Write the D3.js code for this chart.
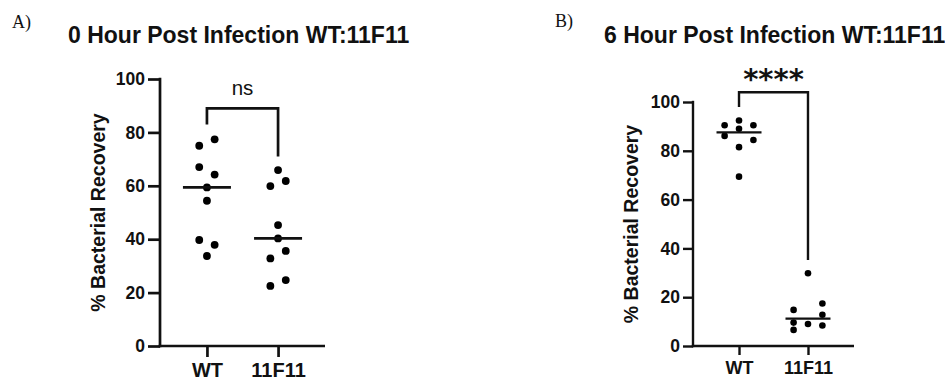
<!DOCTYPE html>
<html>
<head>
<meta charset="utf-8">
<script src="https://cdn.jsdelivr.net/npm/d3@7"></script>
<style>
  html, body { margin: 0; padding: 0; background: #fff; }
  svg { display: block; }
</style>
</head>
<body>
<svg id="chart" width="945" height="383"></svg>
<script>
// ---- data ----
const panelLabels = ["A)", "B)"];
const titles = ["0 Hour Post Infection WT:11F11", "6 Hour Post Infection WT:11F11"];
const categories = ["WT", "11F11"];
const yTicks = [0, 20, 40, 60, 80, 100];
const yTitle = "% Bacterial Recovery";
const significance = ["ns", "****"];

// 0 hour values (% recovery)
const wt0h    = [77.4, 75.0, 67.0, 64.2, 59.4, 54.4, 39.7, 37.9, 33.7];
const f11_0h  = [65.9, 61.8, 59.9, 45.3, 40.3, 35.6, 32.8, 24.7, 22.5];
// 6 hour values (% recovery)
const wt6h    = [92.4, 90.5, 90.5, 89.0, 86.1, 84.4, 81.5, 69.4];
const f11_6h  = [29.8, 17.4, 14.8, 12.8, 9.6, 9.0, 8.4, 6.6];

// scatter column (lane) index of each point: -1 left, 0 centre, 1 right
const wt0hLane   = [1, -1, -1, 1, 0, 0, -1, 1, 0];
const f11_0hLane = [0, 1, -1, 0, 0, 1, -1, 1, -1];
const wt6hLane   = [0, -1, 1, 0, -1, 1, 0, 0];
const f11_6hLane = [0, 1, -1, 1, -1, 0, 1, -1];

// ---- layout ----
const panels = [
  {
    label: panelLabels[0], labelX: 12, labelY: 28,
    title: titles[0], titleX: 68, titleY: 43,
    series: [wt0h, f11_0h], lanes: [wt0hLane, f11_0hLane],
    x0: 160, x1: 325, pad: 0.66, yTop: 79, yBot: 346,
    laneW: 7.7, r: 3.9, medW: 24, sw: 2.7,
    tickFont: 17.5, catFont: 20, tickLen: 12,
    yTitleX: 105,
    sig: significance[0], sigBold: false,
    bracket: { top: 89, left: 83, right: 71 }, sigY: 95, sigFont: 20.5
  },
  {
    label: panelLabels[1], labelX: 555, labelY: 27,
    title: titles[1], titleX: 604, titleY: 43,
    series: [wt6h, f11_6h], lanes: [wt6hLane, f11_6hLane],
    x0: 693, x1: 854, pad: 0.667, yTop: 102, yBot: 346,
    laneW: 14.4, r: 3.3, medW: 22.5, sw: 2.4,
    tickFont: 17.5, catFont: 18, tickLen: 10,
    yTitleX: 638,
    sig: significance[1], sigBold: true,
    bracket: { top: 104, left: 98, right: 35.2 }, sigY: 89, sigFont: 29
  }
];

const svg = d3.select("#chart");
const FONT = "'Liberation Sans', Arial, Helvetica, sans-serif";
const INK = "#111";

panels.forEach(p => {
  const g = svg.append("g");
  const x = d3.scalePoint().domain(categories).range([p.x0, p.x1]).padding(p.pad);
  const y = d3.scaleLinear().domain([0, 100]).range([p.yBot, p.yTop]);

  // panel label
  g.append("text").attr("x", p.labelX).attr("y", p.labelY)
    .attr("font-family", "'Liberation Serif', 'Times New Roman', serif")
    .attr("font-size", 18).attr("fill", INK).text(p.label);

  // title
  g.append("text").attr("x", p.titleX).attr("y", p.titleY)
    .attr("font-family", FONT).attr("font-weight", "bold")
    .attr("font-size", 23).attr("fill", INK).text(p.title);

  // y axis
  const yAxis = d3.axisLeft(y).tickValues(yTicks).tickSize(p.tickLen).tickPadding(3).tickSizeOuter(0);
  const ya = g.append("g").attr("transform", `translate(${p.x0},0)`).call(yAxis);
  ya.select(".domain").attr("stroke", INK).attr("stroke-width", p.sw)
    .attr("d", `M0,${p.yBot + p.sw / 2}V${p.yTop - p.sw / 2}`);
  ya.selectAll(".tick line").attr("stroke", INK).attr("stroke-width", p.sw);
  ya.selectAll(".tick text").attr("font-family", FONT).attr("font-weight", "bold")
    .attr("font-size", p.tickFont).attr("fill", INK);

  // x axis
  const xAxis = d3.axisBottom(x).tickSize(p.tickLen - 1).tickPadding(6).tickSizeOuter(0);
  const xa = g.append("g").attr("transform", `translate(0,${p.yBot})`).call(xAxis);
  xa.select(".domain").attr("stroke", INK).attr("stroke-width", p.sw)
    .attr("d", `M${p.x0 - p.sw / 2},0H${p.x1}`);
  xa.selectAll(".tick line").attr("stroke", INK).attr("stroke-width", p.sw);
  xa.selectAll(".tick text").attr("font-family", FONT).attr("font-weight", "bold")
    .attr("font-size", p.catFont).attr("fill", INK);

  // y title
  g.append("text")
    .attr("transform", `translate(${p.yTitleX},${(p.yTop + p.yBot) / 2}) rotate(-90)`)
    .attr("text-anchor", "middle")
    .attr("font-family", FONT).attr("font-weight", "bold")
    .attr("font-size", 19.5).attr("fill", INK).text(yTitle);

  // points and medians
  p.series.forEach((vals, si) => {
    const cx = x(categories[si]);
    const lanes = p.lanes[si];
    g.append("g").selectAll("circle").data(vals).join("circle")
      .attr("cx", (d, i) => cx + lanes[i] * p.laneW)
      .attr("cy", d => y(d))
      .attr("r", p.r).attr("fill", "#000");
    const med = d3.median(vals);
    g.append("line")
      .attr("x1", cx - p.medW).attr("x2", cx + p.medW)
      .attr("y1", y(med)).attr("y2", y(med))
      .attr("stroke", INK).attr("stroke-width", p.sw);
  });

  // significance bracket
  const xl = x(categories[0]), xr = x(categories[1]);
  const b = p.bracket;
  g.append("path")
    .attr("d", `M${xl},${y(b.left)}V${y(b.top)}H${xr}V${y(b.right)}`)
    .attr("fill", "none").attr("stroke", INK).attr("stroke-width", p.sw);
  g.append("text")
    .attr("x", (xl + xr) / 2).attr("y", p.sigY)
    .attr("text-anchor", "middle")
    .attr("font-family", p.sigBold ? "'DejaVu Sans', sans-serif" : FONT)
    .attr("font-weight", p.sigBold ? "bold" : "normal")
    .attr("font-size", p.sigFont).attr("fill", INK).text(p.sig);
});
</script>
</body>
</html>
